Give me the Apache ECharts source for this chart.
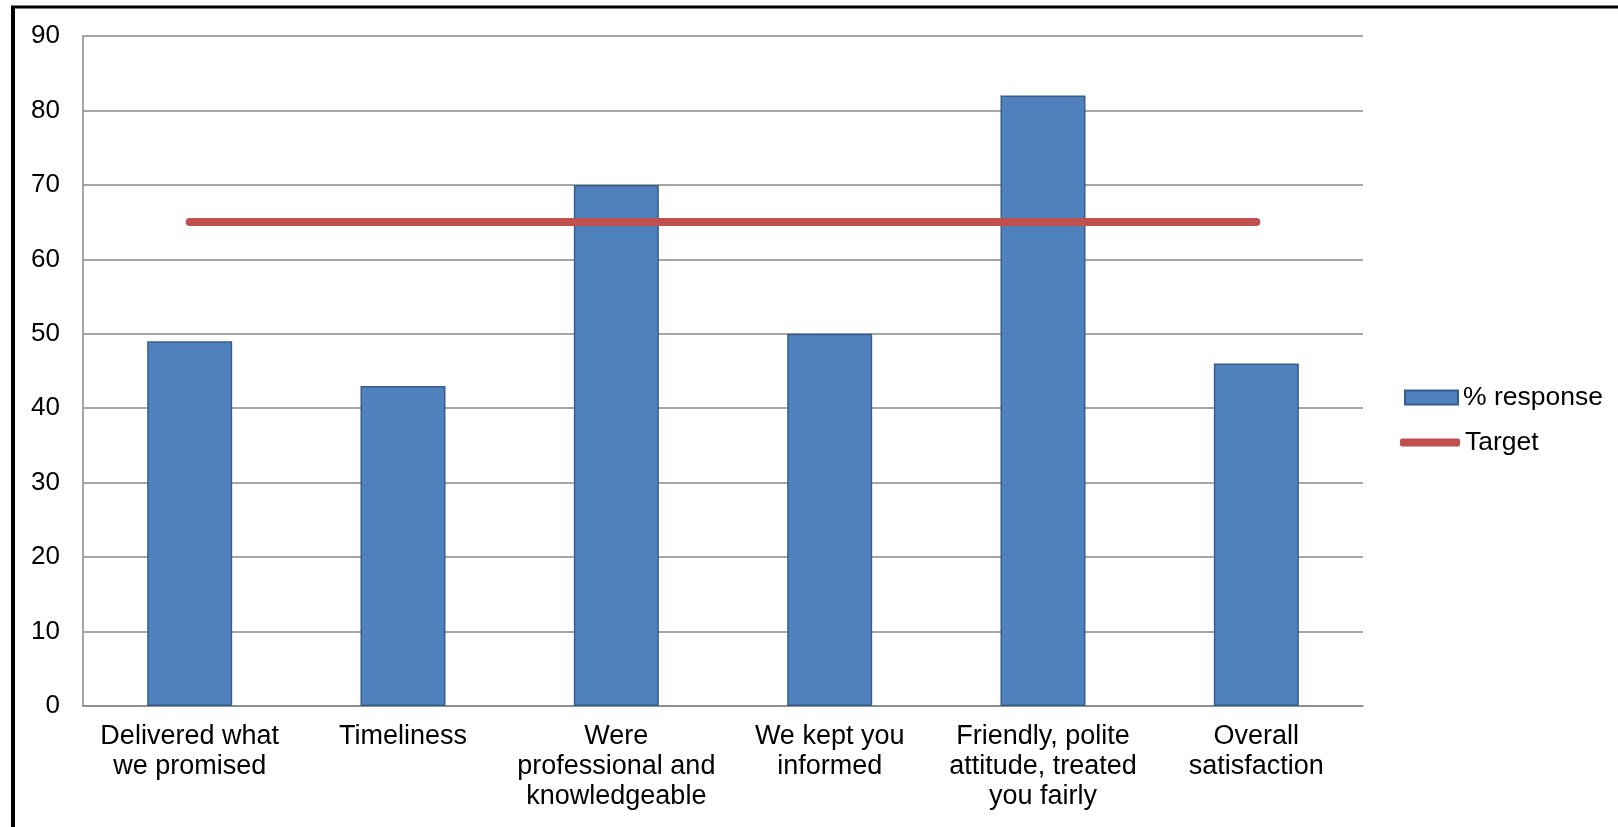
<!DOCTYPE html>
<html>
<head>
<meta charset="utf-8">
<style>
  html, body { margin: 0; padding: 0; background: #fff; }
  #chart { width: 1618px; height: 827px; }
</style>
<script src="https://cdn.jsdelivr.net/npm/echarts@6/dist/echarts.min.js"></script>
</head>
<body>
<div id="chart"></div>
<script>
// Survey results: share of positive responses per question, against a target
const categories = [
  'Delivered what\nwe promised',
  'Timeliness',
  'Were\nprofessional and\nknowledgeable',
  'We kept you\ninformed',
  'Friendly, polite\nattitude, treated\nyou fairly',
  'Overall\nsatisfaction'
];
const responseValues = [49, 43, 70, 50, 82, 46];
const targetValues = [65, 65, 65, 65, 65, 65];
const yTicks = { min: 0, max: 90, interval: 10 };

const FONT = 'Liberation Sans, Arial, sans-serif';
const chart = echarts.init(document.getElementById('chart'), null, { renderer: 'canvas' });

chart.setOption({
  animation: false,
  backgroundColor: '#ffffff',
  textStyle: { fontFamily: FONT, color: '#000' },
  graphic: [
    // frame lines along the top and left edges
    { type: 'line', shape: { x1: 11, y1: 7, x2: 1618, y2: 7 }, style: { stroke: '#000', lineWidth: 3 } },
    { type: 'line', shape: { x1: 13, y1: 6, x2: 13, y2: 827 }, style: { stroke: '#000', lineWidth: 4 } }
  ],
  grid: { left: 83, right: 255, top: 36, bottom: 121, containLabel: false },
  legend: [
    {
      data: [{ name: '% response', icon: 'rect' }],
      left: 1399, top: 379,
      itemWidth: 53, itemHeight: 14,
      textStyle: { fontFamily: FONT, fontSize: 26.5, color: '#000' }
    },
    {
      data: [{ name: 'Target', icon: 'roundRect' }],
      left: 1395, top: 424,
      itemWidth: 60, itemHeight: 8,
      textStyle: { fontFamily: FONT, fontSize: 26.5, color: '#000' }
    }
  ],
  xAxis: {
    type: 'category',
    data: categories,
    axisLine: { show: true, lineStyle: { color: '#888', width: 1.5 } },
    axisTick: { show: false },
    axisLabel: {
      interval: 0,
      margin: 16,
      fontFamily: FONT,
      fontSize: 27,
      lineHeight: 30,
      color: '#000',
      align: 'center'
    }
  },
  yAxis: {
    type: 'value',
    min: yTicks.min, max: yTicks.max, interval: yTicks.interval,
    axisLine: { show: true, lineStyle: { color: '#888', width: 1.5 } },
    axisTick: { show: false },
    splitLine: { show: true, lineStyle: { color: '#888', width: 1.5 } },
    axisLabel: { margin: 23, fontFamily: FONT, fontSize: 26, color: '#000' }
  },
  series: [
    {
      name: '% response',
      type: 'bar',
      data: responseValues,
      barWidth: 85,
      itemStyle: { color: '#4f81bd', borderColor: '#385d8a', borderWidth: 1.5 }
    },
    {
      name: 'Target',
      type: 'line',
      data: targetValues,
      symbol: 'none',
      itemStyle: { color: '#c0504d' },
      lineStyle: { color: '#c0504d', width: 8, cap: 'round' },
      z: 5
    }
  ]
});
</script>
</body>
</html>
